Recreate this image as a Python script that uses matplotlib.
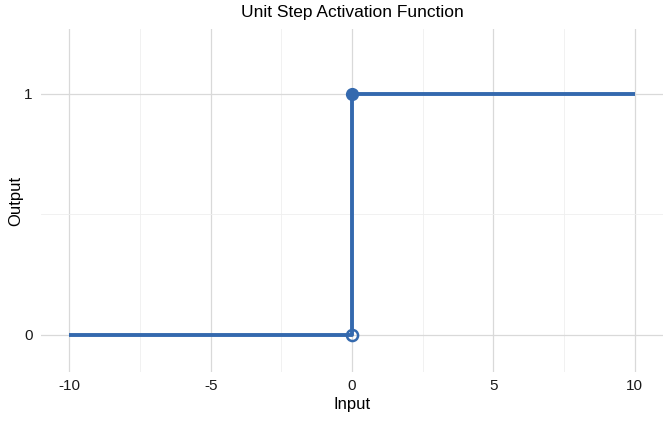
import matplotlib
matplotlib.use("Agg")
import matplotlib.pyplot as plt

# step function data
step_x = [-10, 0, 0, 10]
step_y = [0, 0, 1, 1]
closed_pt = (0, 1)
open_pt = (0, 0)

x_ticks = [-10, -5, 0, 5, 10]
x_tick_labels = ["-10", "-5", "0", "5", "10"]
x_minor = [-7.5, -2.5, 2.5, 7.5]
y_ticks = [0, 1]
y_tick_labels = ["0", "1"]
y_minor = [0.5]

blue = "#3469ae"


def main():
    plt.rcParams["font.family"] = ["Liberation Sans", "DejaVu Sans"]

    fig = plt.figure(figsize=(6.72, 4.47), dpi=100)
    ax = fig.add_axes([41 / 672, 1 - 372 / 447, 622 / 672, 343 / 447])

    ax.plot(step_x, step_y, color=blue, lw=2.8, solid_capstyle="butt", zorder=3)
    ax.plot(*closed_pt, "o", color=blue, ms=8.5, zorder=4)
    ax.plot(*open_pt, "o", mfc="none", mec=blue, mew=1.8, ms=8, zorder=4)

    ax.set_xlim(-11, 11)
    ax.set_ylim(-0.155, 1.27)
    ax.set_xticks(x_ticks)
    ax.set_xticklabels(x_tick_labels)
    ax.set_xticks(x_minor, minor=True)
    ax.set_yticks(y_ticks)
    ax.set_yticklabels(y_tick_labels)
    ax.set_yticks(y_minor, minor=True)

    ax.grid(which="major", color="#d9d9d9", lw=0.9)
    ax.grid(which="minor", color="#efefef", lw=0.6)
    ax.set_axisbelow(True)
    for s in ax.spines.values():
        s.set_visible(False)
    ax.tick_params(which="both", length=0, labelsize=11, colors="#1a1a1a")
    ax.tick_params(axis="x", pad=5)
    ax.tick_params(axis="y", pad=6)

    ax.set_xlabel("Input", fontsize=12, labelpad=3)
    ax.set_ylabel("Output", fontsize=12, labelpad=1)
    ax.set_title("Unit Step Activation Function", fontsize=12.5, pad=9)

    fig.savefig("out.png", dpi=100)


if __name__ == "__main__":
    main()
